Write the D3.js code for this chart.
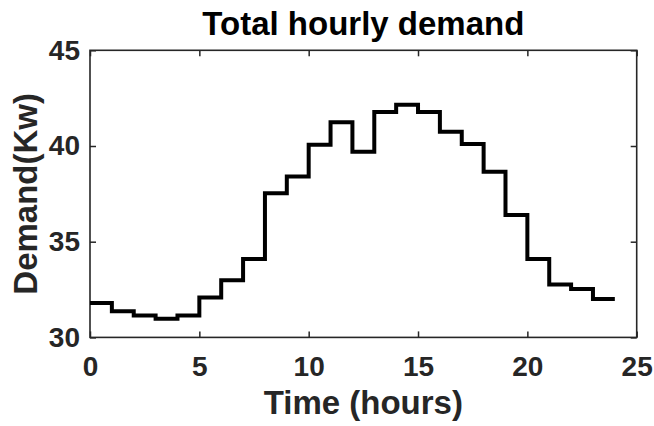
<!DOCTYPE html>
<html lang="en">
<head>
  <meta charset="utf-8">
  <title>Total hourly demand</title>
  <script src="https://cdn.jsdelivr.net/npm/d3@7"></script>
  <style>
    body { margin: 0; background: #fff; }
    svg { display: block; font-family: "Liberation Sans", Arial, sans-serif; }
    .axis path.domain { display: none; }
    .axis line { stroke: #262626; stroke-width: 1.5; }
    .axis text { font-size: 28px; font-weight: bold; fill: #262626; }
    .label { font-size: 33px; font-weight: bold; fill: #262626; text-anchor: middle; }
    #title { fill: #000; }
  </style>
</head>
<body>
  <script>
    // data: demand per hour, hour h covers [h, h+1)
    const hourStart = [0, 1, 2, 3, 4, 5, 6, 7, 8, 9, 10, 11, 12, 13, 14, 15, 16, 17, 18, 19, 20, 21, 22, 23];
    const demand = [31.8, 31.36, 31.15, 30.98, 31.15, 32.08, 32.98, 34.1, 37.53, 38.4, 40.06, 41.24,
                    39.7, 41.77, 42.15, 41.77, 40.75, 40.1, 38.66, 36.4, 34.1, 32.77, 32.53, 32.0];
    const lastHour = 24;
    const xTicks = [0, 5, 10, 15, 20, 25];
    const yTicks = [30, 35, 40, 45];

    const width = 654, height = 426;
    const margin = { top: 50.3, right: 17.3, bottom: 88.6, left: 90 };
    const innerWidth = width - margin.left - margin.right;
    const innerHeight = height - margin.top - margin.bottom;

    const svg = d3.select("body").append("svg")
      .attr("width", width).attr("height", height);

    const g = svg.append("g")
      .attr("transform", `translate(${margin.left},${margin.top})`);

    const x = d3.scaleLinear().domain([0, 25]).range([0, innerWidth]);
    const y = d3.scaleLinear().domain([30, 45]).range([innerHeight, 0]);

    // axes, ticks pointing inward (box style)
    g.append("g").attr("class", "axis")
      .attr("transform", `translate(0,${innerHeight})`)
      .call(d3.axisBottom(x).tickValues(xTicks).tickSizeInner(-6).tickSizeOuter(0).tickPadding(19));
    g.append("g").attr("class", "axis")
      .call(d3.axisTop(x).tickValues(xTicks).tickSizeInner(-6).tickSizeOuter(0).tickFormat(""));
    g.append("g").attr("class", "axis")
      .call(d3.axisLeft(y).tickValues(yTicks).tickSizeInner(-6).tickSizeOuter(0).tickPadding(10));
    g.append("g").attr("class", "axis")
      .attr("transform", `translate(${innerWidth},0)`)
      .call(d3.axisRight(y).tickValues(yTicks).tickSizeInner(-6).tickSizeOuter(0).tickFormat(""));

    g.append("rect")
      .attr("width", innerWidth).attr("height", innerHeight)
      .attr("fill", "none").attr("stroke", "#262626").attr("stroke-width", 1.6);

    // step line
    const points = hourStart.map((h, i) => [h, demand[i]]);
    points.push([lastHour, demand[demand.length - 1]]);

    const line = d3.line()
      .x(d => x(d[0])).y(d => y(d[1]))
      .curve(d3.curveStepAfter);

    g.append("path")
      .datum(points)
      .attr("fill", "none")
      .attr("stroke", "#000")
      .attr("stroke-width", 4)
      .attr("stroke-linejoin", "miter")
      .attr("d", line);

    // titles
    svg.append("text").attr("id", "title").attr("class", "label")
      .attr("x", margin.left + innerWidth / 2).attr("y", 35)
      .text("Total hourly demand");
    svg.append("text").attr("class", "label")
      .attr("x", margin.left + innerWidth / 2).attr("y", 414)
      .text("Time (hours)");
    svg.append("text").attr("class", "label")
      .attr("transform", `translate(37,${margin.top + innerHeight / 2}) rotate(-90)`)
      .text("Demand(Kw)");
  </script>
</body>
</html>
